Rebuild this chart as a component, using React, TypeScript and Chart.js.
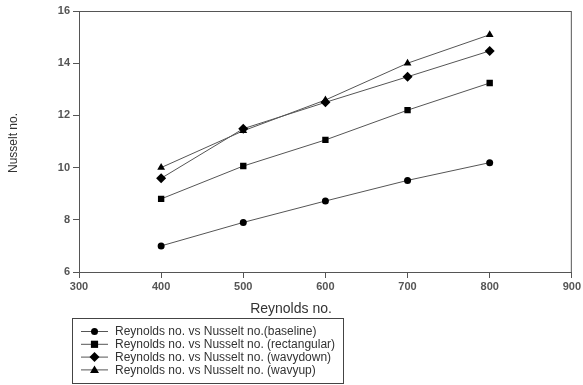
import React, { useEffect, useRef } from "react";
import { Chart, registerables } from "chart.js";

Chart.register(...registerables);

const reynolds = [400, 500, 600, 700, 800];
const baseline = [7.0, 7.9, 8.72, 9.51, 10.19];
const rectangular = [8.8, 10.06, 11.06, 12.2, 13.24];
const wavyDown = [9.59, 11.49, 12.5, 13.48, 14.47];
const wavyUp = [10.0, 11.41, 12.59, 14.0, 15.09];

const seriesLabels = [
  "Reynolds no. vs Nusselt no.(baseline)",
  "Reynolds no. vs Nusselt no. (rectangular)",
  "Reynolds no. vs Nusselt no. (wavydown)",
  "Reynolds no. vs Nusselt no. (wavyup)",
];
const pointStyles = ["circle", "rect", "rectRot", "triangle"];
const pointSizes = [3.5, 4.5, 5, 4.5];
const xTitle = "Reynolds no.";
const yTitle = "Nusselt no.";

const LINE = "#555555";
const MARK = "#000000";
const FONT = "'Liberation Sans', Arial, sans-serif";

function drawMarker(ctx: CanvasRenderingContext2D, style: string, x: number, y: number, r: number) {
  ctx.beginPath();
  if (style === "circle") {
    ctx.arc(x, y, r, 0, Math.PI * 2);
  } else if (style === "rect") {
    ctx.rect(x - r * 0.8, y - r * 0.8, r * 1.6, r * 1.6);
  } else if (style === "rectRot") {
    ctx.moveTo(x, y - r);
    ctx.lineTo(x + r, y);
    ctx.lineTo(x, y + r);
    ctx.lineTo(x - r, y);
    ctx.closePath();
  } else {
    ctx.moveTo(x, y - r);
    ctx.lineTo(x + r, y + r * 0.7);
    ctx.lineTo(x - r, y + r * 0.7);
    ctx.closePath();
  }
  ctx.fill();
}

const decorPlugin = {
  id: "decor",
  afterDraw(chart: any) {
    const ctx: CanvasRenderingContext2D = chart.ctx;
    const a = chart.chartArea;
    ctx.save();
    // frame
    ctx.strokeStyle = "#555";
    ctx.lineWidth = 1;
    ctx.strokeRect(a.left + 0.5, a.top + 0.5, a.right - a.left - 1, a.bottom - a.top);
    // x title
    ctx.fillStyle = "#333";
    ctx.font = `14px ${FONT}`;
    ctx.textAlign = "center";
    ctx.textBaseline = "middle";
    ctx.fillText(xTitle, 291, 309);
    // y title
    ctx.save();
    ctx.translate(14, 143);
    ctx.rotate(-Math.PI / 2);
    ctx.font = `12px ${FONT}`;
    ctx.fillText(yTitle, 0, 0);
    ctx.restore();
    // legend
    const bx = 72.5, by = 318.5, bw = 271, bh = 65;
    ctx.strokeStyle = "#444";
    ctx.strokeRect(bx, by, bw, bh);
    ctx.font = `12px ${FONT}`;
    ctx.textAlign = "left";
    for (let i = 0; i < seriesLabels.length; i++) {
      const y = 331.5 + i * 12.8;
      ctx.strokeStyle = LINE;
      ctx.beginPath();
      ctx.moveTo(81, y);
      ctx.lineTo(108, y);
      ctx.stroke();
      ctx.fillStyle = MARK;
      drawMarker(ctx, pointStyles[i], 94.5, y, pointSizes[i]);
      ctx.fillStyle = "#333";
      ctx.fillText(seriesLabels[i], 115, y + 0.5);
    }
    ctx.restore();
  },
};

export default function App() {
  const ref = useRef<HTMLCanvasElement>(null);
  useEffect(() => {
    if (!ref.current) return;
    const all = [baseline, rectangular, wavyDown, wavyUp];
    const chart = new Chart(ref.current, {
      type: "scatter",
      data: {
        datasets: all.map((vals, i) => ({
          label: seriesLabels[i],
          data: reynolds.map((x, j) => ({ x, y: vals[j] })),
          showLine: true,
          borderColor: LINE,
          borderWidth: 1,
          backgroundColor: MARK,
          pointBackgroundColor: MARK,
          pointBorderColor: MARK,
          pointBorderWidth: 0,
          pointStyle: pointStyles[i] as any,
          pointRadius: pointSizes[i],
        })),
      },
      options: {
        animation: false,
        responsive: false,
        layout: { padding: { top: 11, right: 10, left: 0, bottom: 0 } },
        plugins: { legend: { display: false }, tooltip: { enabled: false } },
        scales: {
          x: {
            type: "linear",
            min: 300,
            max: 900,
            ticks: { stepSize: 100, color: "#555", font: { family: FONT, size: 11, weight: "bold" }, padding: 2 },
            grid: { drawOnChartArea: false, drawTicks: true, tickLength: 6, color: "#555" },
            border: { color: "#555" },
            afterFit: (s: any) => { s.height = 113; },
          },
          y: {
            min: 6,
            max: 16,
            ticks: { stepSize: 2, color: "#555", font: { family: FONT, size: 11, weight: "bold" }, padding: 3 },
            grid: { drawOnChartArea: false, drawTicks: true, tickLength: 6, color: "#555" },
            border: { color: "#555" },
            afterFit: (s: any) => { s.width = 79; },
          },
        },
      },
      plugins: [decorPlugin],
    });
    return () => chart.destroy();
  }, []);
  return (
    <div style={{ position: "fixed", left: 0, top: 0, width: 583, height: 385, background: "#fff" }}>
      <canvas ref={ref} width={583} height={385} style={{ width: 583, height: 385, display: "block" }} />
    </div>
  );
}
